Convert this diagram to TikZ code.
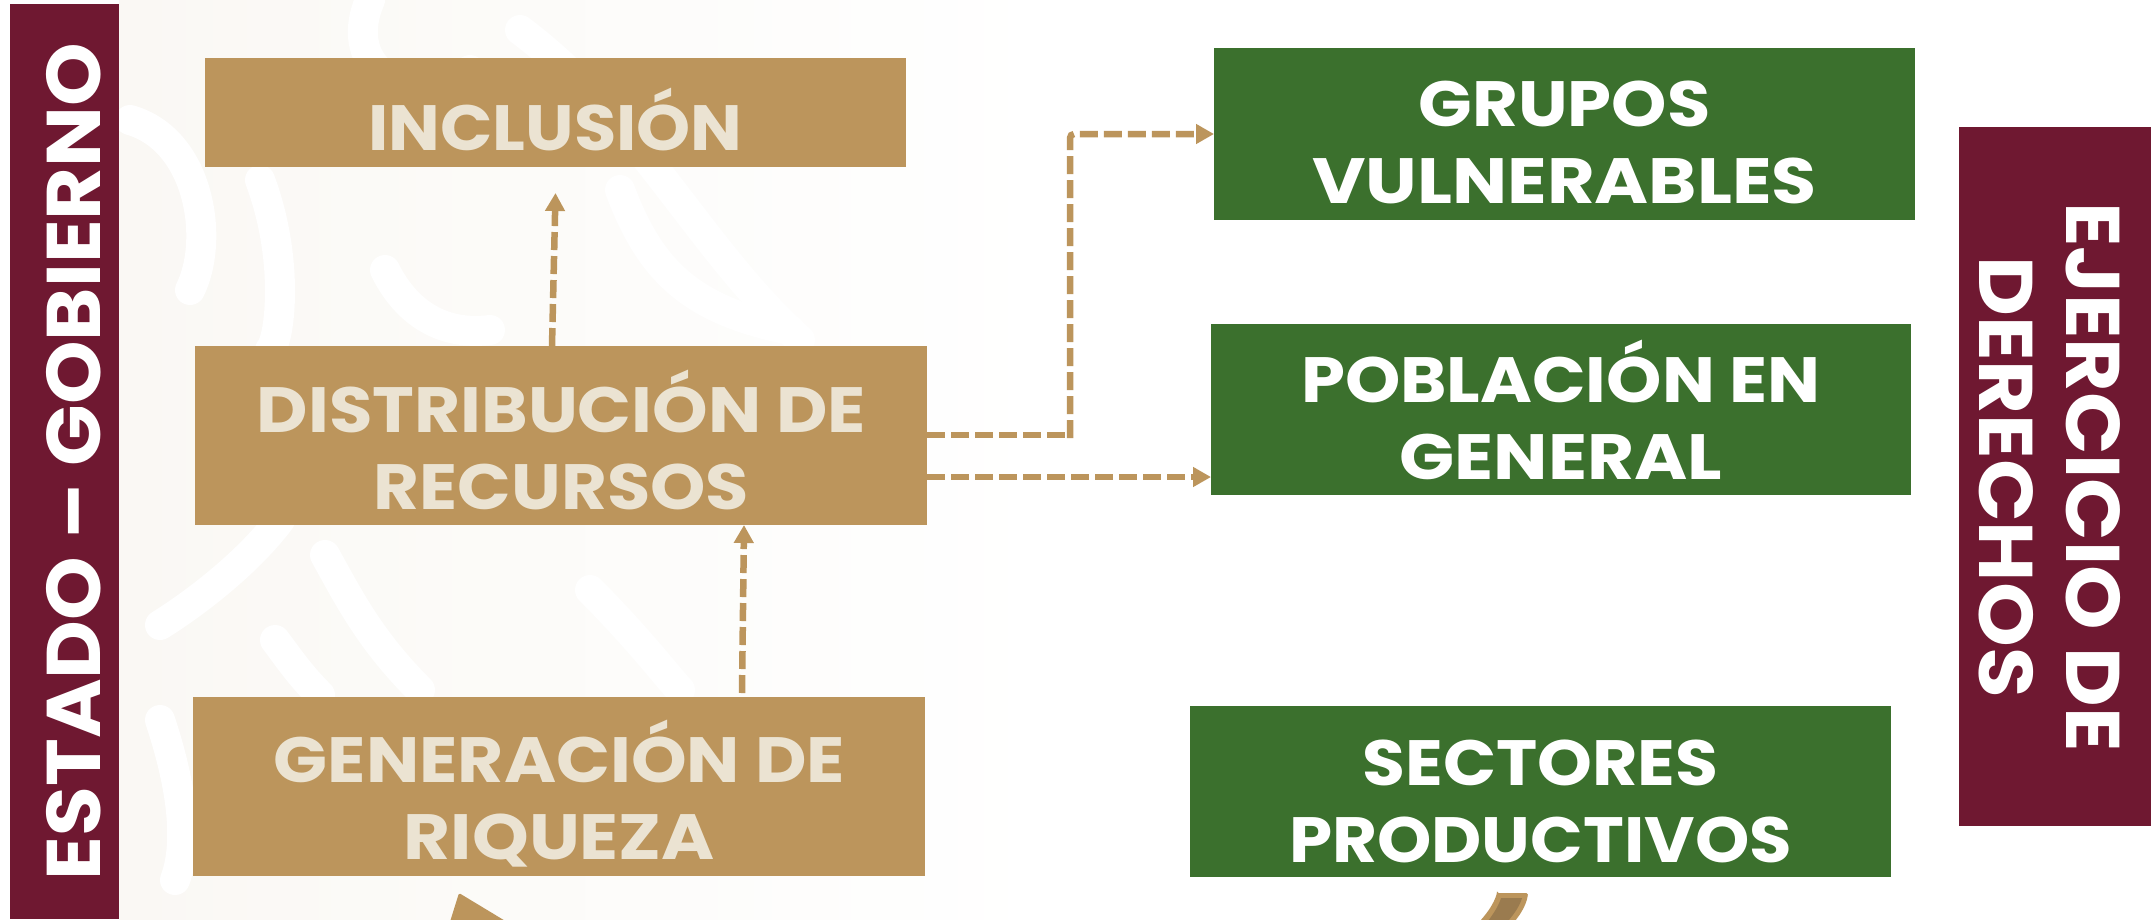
\documentclass[tikz,border=0pt]{standalone}
\usepackage{fontspec}
\setmainfont{Poppins}
\usetikzlibrary{arrows.meta,calc}
\definecolor{guinda}{HTML}{6F1831}
\definecolor{oro}{HTML}{BC955C}
\definecolor{verde}{HTML}{3B702D}
\definecolor{crema}{HTML}{EBE3D2}
\definecolor{marca}{HTML}{FAF8F4}
\definecolor{orodark}{HTML}{9A7B4F}
\newcommand{\ancho}[2]{{\addfontfeature{FakeStretch=#1}#2}}
\newcommand{\rotulo}[4]{\makebox[0pt]{\hspace*{#1}\raisebox{#2}[0pt][0pt]{\parbox[t]{1200pt}{\centering\fontsize{#3}{77pt}\selectfont\bfseries #4}}}}
\newcommand{\barra}[5]{\makebox[0pt]{\hspace*{#1}\raisebox{#2}[0pt][0pt]{\parbox[t]{1200pt}{\centering\fontsize{#3}{#4}\selectfont\bfseries #5}}}}
\tikzset{
  plainbox/.style={rectangle,inner sep=0pt,outer sep=0pt,anchor=center},
  goldbox/.style={plainbox,fill=oro,text=crema},
  greenbox/.style={plainbox,fill=verde,text=white},
  sidebar/.style={plainbox,fill=guinda,text=white},
  flow/.style={draw=oro,line width=6.5pt,dash pattern=on 18pt off 6pt},
  flowtip/.style={flow,-{Triangle[length=18pt,width=19pt,fill=oro]}},
}
\begin{document}
\begin{tikzpicture}[x=1pt,y=-1pt]
\useasboundingbox (0,0) rectangle (2151,919);
\fill[white] (0,0) rectangle (2151,919);
% faint watermark
\shade[left color=marca,right color=white] (119,0) rectangle (1050,919);
\begin{scope}[white,line width=30pt,line cap=round,fill=none]
\draw (130,120) .. controls (200,140) and (215,240) .. (190,290);
\draw (260,180) .. controls (290,260) and (280,340) .. (270,350);
\draw (370,0) .. controls (340,70) and (410,110) .. (470,70);
\draw (520,30) .. controls (640,120) and (700,250) .. (800,340);
\draw (385,270) .. controls (410,320) and (450,335) .. (490,330);
\draw (620,190) .. controls (650,270) and (690,310) .. (790,330);
\draw (325,555) .. controls (350,600) and (370,640) .. (420,690);
\draw (275,640) .. controls (290,660) and (300,675) .. (320,695);
\draw (160,625) .. controls (200,600) and (250,560) .. (280,520);
\draw (590,590) .. controls (640,640) and (670,680) .. (680,690);
\draw (160,720) .. controls (180,780) and (190,840) .. (175,880);
\end{scope}
% boxes
\node[sidebar,minimum width=915pt,minimum height=109pt,rotate=90] (estado) at (64,461.5) {\barra{0pt}{-36.8pt}{76pt}{76pt}{\ancho{1.065}{ESTADO – GOBIERNO}}};
\node[sidebar,minimum width=699pt,minimum height=192pt,rotate=-90] (ejercicio) at (2055,476.5) {\barra{1pt}{11pt}{76pt}{87pt}{\ancho{1.08}{EJERCICIO DE}\\\ancho{1.085}{DERECHOS}}};
\node[goldbox,minimum width=701pt,minimum height=109pt] (inc) at (555.5,112.5) {\rotulo{0pt}{-38.2pt}{64pt}{\ancho{1.075}{INCLUSIÓN}}};
\node[goldbox,minimum width=732pt,minimum height=179pt] (dist) at (561,435.5) {\rotulo{1pt}{3.5pt}{64pt}{\ancho{1.105}{DISTRIBUCIÓN DE}\\\ancho{1.10}{RECURSOS}}};
\node[goldbox,minimum width=732pt,minimum height=179pt] (gen) at (559,786.5) {\rotulo{1pt}{3.8pt}{64pt}{\ancho{1.107}{GENERACIÓN DE}\\\ancho{1.127}{RIQUEZA}}};
\node[greenbox,minimum width=701pt,minimum height=172pt] (grupos) at (1564.5,134) {\rotulo{0pt}{7.3pt}{64pt}{\ancho{1.10}{GRUPOS}\\\ancho{1.145}{VULNERABLES}}};
\node[greenbox,minimum width=700pt,minimum height=171pt] (poblacion) at (1561,409.5) {\rotulo{0pt}{7.2pt}{64pt}{\ancho{1.10}{POBLACIÓN EN}\\\ancho{1.13}{GENERAL}}};
\node[greenbox,minimum width=701pt,minimum height=171pt] (sectores) at (1540.5,791.5) {\rotulo{0pt}{6.5pt}{64pt}{\ancho{1.09}{SECTORES}\\\ancho{1.08}{PRODUCTIVOS}}};
% connectors
\coordinate (bendlow) at (1070,435);
\coordinate (bendhigh) at (1070,134);
\draw[flowtip] ([xshift=-9pt]dist.north) -- ([yshift=-26pt]inc.south);
\draw[flowtip] ([xshift=183pt,yshift=4pt]gen.north) -- ([xshift=183pt]dist.south);
\draw[flow] (dist.east |- bendlow) -- (bendlow);
\draw[flowtip,rounded corners=4pt] ([yshift=-3pt]bendlow) -- (bendhigh) -- (bendhigh -| grupos.west);
\draw[flowtip] (dist.east |- 0,477) -- (poblacion.west |- 0,477);
% cut-off shapes at the bottom edge
\fill[oro,rounded corners=1.5pt] (459,893) -- (449,925) -- (512,925) -- cycle;
\fill[oro,rounded corners=1.5pt] (1497,893) -- (1528,893) .. controls (1527,903) and (1522,912) .. (1515,921) -- (1480,921) .. controls (1488,912) and (1494,903) .. cycle;
\fill[orodark] (1501,898) -- (1522,898) .. controls (1520,905) and (1515,913) .. (1508,921) -- (1488,921) .. controls (1494,913) and (1499,905) .. cycle;
\end{tikzpicture}
\end{document}
